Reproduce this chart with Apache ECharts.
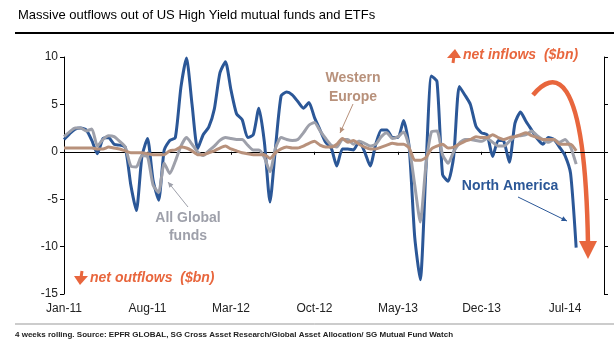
<!DOCTYPE html>
<html>
<head>
<meta charset="utf-8">
<script src="https://cdn.jsdelivr.net/npm/echarts@6.0.0/dist/echarts.min.js"></script>
<style>
html, body { margin: 0; padding: 0; background: #fff; }
#chart { width: 614px; height: 346px; }
</style>
</head>
<body>
<div id="chart"></div>
<script>
// fortnightly points, 4 weeks rolling flows ($bn)
var tickLabels = ['Jan-11', 'Aug-11', 'Mar-12', 'Oct-12', 'May-13', 'Dec-13', 'Jul-14'];
var labelEvery = 15;
var periods = [];
for (var i = 0; i < 98; i++) periods.push(i);

var northAmerica = [
    1.3, 1.9, 2.4, 2.5, 2.3, 1.2, -0.2, 1.4, 1.5, 0.8,
    0.7, 0.5, -3.5, -6.2, -0.5, 1.4, -3.0, -5.1, 0.2, 1.2,
    1.5, 6.8, 9.9, 5.0, 0.3, 1.8, 2.6, 4.5, 8.3, 9.5,
    6.5, 4.0, 3.4, 1.5, 1.8, 4.6, 1.0, -5.3, 0.5, 5.9,
    6.3, 6.0, 5.3, 4.6, 5.2, 3.6, 2.3, 1.0, 0.4, -1.5,
    0.3, 0.3, 0.2, 1.1, 0.0, -1.5, 0.8, 2.3, 2.3, 1.5,
    1.5, 3.3, 0.5, -9.0, -13.5, -2.0, 8.0, 7.4, -2.4, -3.1,
    -0.5, 6.9, 6.0, 5.0, 2.7, 2.0, 1.8, -0.5, 1.2, 1.1,
    -1.1, 3.0, 4.2, 3.2, 2.3, 1.4, 0.8, 1.5, 1.3, 0.5,
    -0.4, -2.3, -10.1
];
var allGlobal = [
    1.6, 2.1, 2.5, 2.5, 2.2, 2.4, 0.6, 1.3, 1.7, 1.6,
    1.1, 0.5, -1.5, -1.6, -0.4, -0.5, -3.5, -4.3, -1.2, -2.3,
    -1.0, 0.6, 1.5, 0.8, 0.0, -0.4, 0.1, 0.6, 1.2, 1.5,
    1.4, 1.3, 1.3, 0.7, 0.2, 0.2, -0.6, -2.1, 0.4, 1.5,
    1.3, 1.2, 1.3, 2.0, 2.8, 3.1, 2.2, 1.4, 0.7, 0.5,
    1.3, 1.3, 0.8, 1.1, 0.9, 0.6, 0.8, 1.6, 2.0, 1.4,
    1.6, 2.1, 0.5, -3.5, -7.4, -1.5, 2.1, 2.2, -0.3, -1.2,
    0.0, 0.9, 1.3, 1.3, 1.2, 1.1, 1.4, 1.0, 0.6, 0.6,
    1.1, 1.6, 1.7, 1.8, 2.2, 1.7, 1.3, 1.0, 1.3, 1.0,
    1.3, 0.5, -1.3
];
var westernEurope = [
    0.4, 0.4, 0.4, 0.4, 0.4, 0.4, 0.3, 0.3, 0.5, 0.4,
    0.3, 0.1, -0.1, -0.1, -0.1, -0.2, -0.3, -0.3, -0.3, 0.1,
    0.2, 0.5, 0.4, 0.1, -0.3, -0.3, -0.1, 0.1, 0.4, 0.6,
    0.3, 0.1, -0.1, -0.2, -0.3, -0.3, -0.3, -0.7, -0.1, 0.3,
    0.5, 0.4, 0.4, 0.6, 0.9, 1.1, 0.7, 0.5, 0.5, 0.8,
    1.4, 1.0, 1.2, 0.8, 0.5, 0.3, 0.3, 0.5, 0.7, 0.9,
    0.8, 0.8, 0.4, -0.9, -0.9, -0.6, 0.3, 0.6, 0.8, 0.4,
    0.5, 0.8, 1.1, 1.3, 1.6, 1.5, 1.5, 1.8, 1.5, 1.3,
    1.5, 1.6, 1.8, 2.0, 1.7, 1.5, 1.3, 1.3, 1.3, 0.8,
    0.8, 0.8, 0.1
];

var BLUE = '#2b5797', GREY = '#9ea0aa', TAN = '#b8917b', ORANGE = '#e8663d';
var FONT = '"Liberation Sans", Arial, sans-serif';

function arrow(x1, y1, x2, y2, color) {
    var a = Math.atan2(y2 - y1, x2 - x1), h = 6;
    return [
        {type: 'line', shape: {x1: x1, y1: y1, x2: x2, y2: y2}, style: {stroke: color, lineWidth: 1}},
        {type: 'polygon', shape: {points: [
            [x2, y2],
            [x2 - h * Math.cos(a - 0.45), y2 - h * Math.sin(a - 0.45)],
            [x2 - h * Math.cos(a + 0.45), y2 - h * Math.sin(a + 0.45)]
        ]}, style: {fill: color}}
    ];
}

function label(text, x, y, color, font) {
    return {type: 'text', x: x, y: y, style: {text: text, fill: color, font: font, align: 'center', verticalAlign: 'middle'}};
}

var graphics = [
    {type: 'text', x: 18, y: 15, style: {text: 'Massive outflows out of US High Yield mutual funds and ETFs', fill: '#000', font: '13px ' + FONT, verticalAlign: 'middle'}},
    {type: 'rect', shape: {x: 15, y: 32, width: 599, height: 2}, style: {fill: '#000'}},
    {type: 'line', shape: {x1: 15, y1: 324, x2: 614, y2: 324}, style: {stroke: '#999', lineWidth: 1}},
    {type: 'text', x: 15, y: 335, style: {text: '4 weeks rolling. Source: EPFR GLOBAL, SG Cross Asset Research/Global Asset Allocation/ SG Mutual Fund Watch', fill: '#222', font: 'bold 8px ' + FONT, verticalAlign: 'middle'}},
    label('Western', 353, 78, TAN, 'bold 14px ' + FONT),
    label('Europe', 353, 97, TAN, 'bold 14px ' + FONT),
    label('All Global', 188, 218, GREY, 'bold 14px ' + FONT),
    label('funds', 188, 236, GREY, 'bold 14px ' + FONT),
    label('North America', 510, 186, BLUE, 'bold 14px ' + FONT),
    {type: 'text', x: 463, y: 55, style: {text: 'net inflows  ($bn)', fill: ORANGE, font: 'italic bold 14px ' + FONT, verticalAlign: 'middle'}},
    {type: 'text', x: 90, y: 278, style: {text: 'net outflows  ($bn)', fill: ORANGE, font: 'italic bold 14px ' + FONT, verticalAlign: 'middle'}},
    // small block arrows in front of the labels
    {type: 'line', shape: {x1: 454, y1: 56, x2: 453, y2: 63}, style: {stroke: ORANGE, lineWidth: 3}},
    {type: 'polygon', shape: {points: [[447, 58], [461, 58], [455, 49]]}, style: {fill: ORANGE}},
    {type: 'line', shape: {x1: 82, y1: 271, x2: 81, y2: 278}, style: {stroke: ORANGE, lineWidth: 3}},
    {type: 'polygon', shape: {points: [[74, 276], [88, 276], [80, 285]]}, style: {fill: ORANGE}},
    // big curved arrow
    {type: 'bezierCurve', shape: {x1: 533, y1: 95, cpx1: 552, cpy1: 72, cpx2: 585, cpy2: 60, x2: 588, y2: 244},
        style: {stroke: ORANGE, lineWidth: 4.5, fill: null}},
    {type: 'polygon', shape: {points: [[579, 241], [597, 241], [588, 259]]}, style: {fill: ORANGE}}
]
    .concat(arrow(353, 104, 340, 133, TAN))
    .concat(arrow(188, 207, 168, 182, GREY))
    .concat(arrow(518, 197, 567, 221, BLUE));

var chart = echarts.init(document.getElementById('chart'));
chart.setOption({
    backgroundColor: '#fff',
    animation: false,
    grid: {left: 64, right: 10, top: 57, bottom: 52},
    xAxis: [
        {
            type: 'category', data: periods, boundaryGap: false,
            axisLine: {onZero: true, lineStyle: {color: '#000', width: 1}},
            axisTick: {interval: function (i) { return i % labelEvery === 0; }, length: 3, lineStyle: {color: '#000'}},
            axisLabel: {show: false}
        },
        {
            type: 'category', data: periods, boundaryGap: false, position: 'bottom',
            axisLine: {show: false, onZero: false}, axisTick: {show: false},
            axisLabel: {
                interval: function (i) { return i % labelEvery === 0; },
                formatter: function (v, i) { return tickLabels[i / labelEvery] || ''; },
                color: '#222', fontSize: 12, fontFamily: FONT, margin: 9
            }
        }
    ],
    yAxis: [
        {
            type: 'value', min: -15, max: 10, interval: 5,
            splitLine: {show: false},
            axisLine: {show: true, lineStyle: {color: '#000'}},
            axisTick: {show: true, length: 4, lineStyle: {color: '#000'}},
            axisLabel: {color: '#222', fontSize: 12, fontFamily: FONT, margin: 6}
        },
        {
            type: 'value', min: -15, max: 10, interval: 5, position: 'right',
            splitLine: {show: false},
            axisLine: {show: true, lineStyle: {color: '#000'}},
            axisTick: {show: true, length: 4, lineStyle: {color: '#000'}},
            axisLabel: {show: false}
        }
    ],
    series: [
        {name: 'North America', type: 'line', data: northAmerica, symbol: 'none', smooth: 0.2,
            lineStyle: {color: BLUE, width: 3}},
        {name: 'All Global funds', type: 'line', data: allGlobal, symbol: 'none', smooth: 0.2,
            lineStyle: {color: GREY, width: 3}},
        {name: 'Western Europe', type: 'line', data: westernEurope, symbol: 'none', smooth: 0.2,
            lineStyle: {color: TAN, width: 3}}
    ],
    graphic: graphics
});
</script>
</body>
</html>
